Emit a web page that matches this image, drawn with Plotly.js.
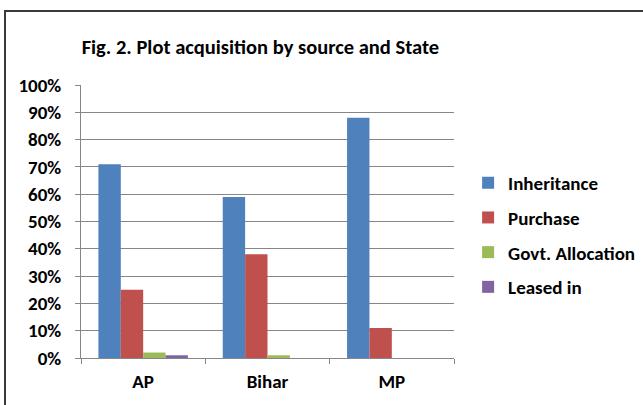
<!DOCTYPE html>
<html><head><meta charset="utf-8">
<script src="https://cdn.plot.ly/plotly-3.0.1.min.js"></script>
<style>html,body{margin:0;padding:0;background:#fff}#c{width:643px;height:405px}
#frame{position:absolute;left:4px;top:10px;width:660px;height:420px;border:2px solid #3a3a3a;pointer-events:none;box-sizing:border-box}</style>
</head><body><div id="c"></div><div id="frame"></div>
<script>
const states = ["AP", "Bihar", "MP"];
const inheritance = [71, 59, 88];
const purchase = [25, 38, 11];
const govtAllocation = [2, 1, 0];
const leasedIn = [1, 0, 0];
const seriesNames = ["Inheritance", "Purchase", "Govt. Allocation", "Leased in"];
const colors = ["#4F81BD", "#C0504D", "#9BBB59", "#8064A2"];
const vals = [inheritance, purchase, govtAllocation, leasedIn];
const font = "Calibri, Carlito, 'Open Sans', 'Liberation Sans', sans-serif";
const traces = vals.map((v, i) => ({type: "bar", x: states, y: v, name: seriesNames[i], legendgroup: "g" + i, marker: {color: colors[i]}}));
const layout = {
  width: 643, height: 405,
  margin: {l: 81, r: 189, t: 85, b: 47},
  paper_bgcolor: "#fff", plot_bgcolor: "#fff",
  title: {text: "<b>Fig. 2. Plot acquisition by source and State</b>", font: {family: font, size: 20.5, color: "#000"}, x: 0.405, xanchor: "center", y: 0.885, yanchor: "middle"},
  barmode: "group", bargap: 0.28, bargroupgap: 0,
  xaxis: {tickfont: {family: font, size: 19, color: "#000", weight: "bold"}, showline: true, linecolor: "#868686", linewidth: 1, ticks: "outside", tickson: "boundaries", ticklen: 5, tickcolor: "#868686", ticklabelstandoff: 6, fixedrange: true},
  yaxis: {range: [0, 100], dtick: 10, ticksuffix: "%", tickfont: {family: font, size: 19, color: "#000", weight: "bold"}, showgrid: true, gridcolor: "#868686", gridwidth: 1, showline: true, linecolor: "#868686", ticks: "outside", ticklen: 5, tickcolor: "#868686", ticklabelstandoff: 10, zeroline: false, fixedrange: true},
  legend: {xref: "container", yref: "container", x: 0.728, y: 0.42, xanchor: "left", yanchor: "middle", font: {family: font, size: 19, color: "#000", weight: "bold"}, traceorder: "grouped", tracegroupgap: 7, itemwidth: 30},
  showlegend: true
};
Plotly.newPlot("c", traces, layout, {staticPlot: true});
</script></body></html>
